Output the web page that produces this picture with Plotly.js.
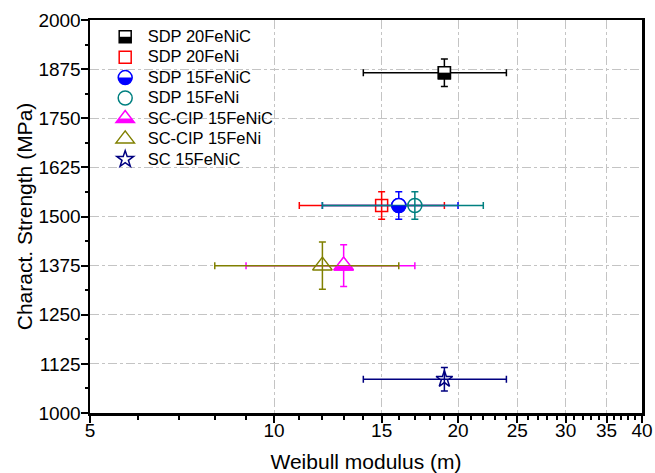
<!DOCTYPE html>
<html>
<head>
<meta charset="utf-8">
<script src="https://cdn.plot.ly/plotly-3.0.1.min.js"></script>
<style>
html,body{margin:0;padding:0;background:#ffffff;}
#chart{width:655px;height:473px;}
</style>
</head>
<body>
<div id="chart"></div>
<script>
// ---------------- data ----------------
var seriesNames = ['SDP 20FeNiC', 'SDP 20FeNi', 'SDP 15FeNiC', 'SDP 15FeNi', 'SC-CIP 15FeNiC', 'SC-CIP 15FeNi', 'SC 15FeNiC'];
var modulus = [19, 15, 16, 17, 13, 12, 19];
var modulusErrMinus = [5, 4, 4, 5, 4, 4, 5];
var modulusErrPlus = [5, 4, 4, 5, 4, 4, 5];
var strength = [1866, 1528, 1528, 1528, 1375, 1375, 1086];
var strengthErr = [35, 35, 35, 35, 53, 60, 30];

var xTickVals = [5, 10, 15, 20, 25, 30, 35, 40];
var xTickText = ['5', '10', '15', '20', '25', '30', '35', '40'];
var xMinorTickVals = [6, 7, 8, 9, 11, 12, 13, 14, 16, 17, 18, 19, 21, 22, 23, 24, 26, 27, 28, 29, 31, 32, 33, 34, 36, 37, 38, 39];
var yTickVals = [1000, 1125, 1250, 1375, 1500, 1625, 1750, 1875, 2000];
var yMinorTickVals = [1062.5, 1187.5, 1312.5, 1437.5, 1562.5, 1687.5, 1812.5, 1937.5];

// ---------------- styles ----------------
var colors = ['#000000', '#FF0000', '#0000FF', '#008080', '#FF00FF', '#808000', '#000080'];
var symbols = ['square', 'square', 'circle', 'circle', 'triangle-up', 'triangle-up', 'star'];
var sizes = [12, 12, 14, 14, 17, 17, 12.5];
var halfFilled = [true, false, true, false, true, false, false];
var FONT = 'Arial, "Liberation Sans", sans-serif';

var traces = [];
for (var i = 0; i < seriesNames.length; i++) {
  var sym = halfFilled[i] ? symbols[i] : symbols[i] + '-open';
  traces.push({
    type: 'scatter', mode: 'markers',
    name: '<span style="font-size:16.5px">' + seriesNames[i] + '</span>',
    x: [modulus[i]], y: [strength[i]],
    marker: {
      symbol: sym, size: sizes[i],
      color: halfFilled[i] ? 'rgba(255,255,255,0)' : colors[i],
      line: {color: colors[i], width: 1.5}
    },
    error_x: {type: 'data', symmetric: false, array: [modulusErrPlus[i]], arrayminus: [modulusErrMinus[i]],
              color: colors[i], thickness: 1.5, width: 3.5},
    error_y: {type: 'data', array: [strengthErr[i]], color: colors[i], thickness: 1.5, width: 3.5},
    hoverinfo: 'x+y+name'
  });
  if (halfFilled[i]) {
    traces.push({
      type: 'scatter', mode: 'markers', showlegend: false, hoverinfo: 'skip',
      x: [modulus[i]], y: [strength[i]],
      marker: {symbol: symbols[i], size: sizes[i], color: '#ffffff', line: {color: colors[i], width: 1.5}}
    });
  }
}

function halfPath(sym, size) {
  var r = size / 2;
  if (sym === 'square') {
    return 'M ' + (-r) + ',0 L ' + r + ',0 L ' + r + ',' + (-r) + ' L ' + (-r) + ',' + (-r) + ' Z';
  }
  if (sym === 'circle') {
    var k = 0.5523 * r;
    return 'M ' + (-r) + ',0 C ' + (-r) + ',' + (-k) + ' ' + (-k) + ',' + (-r) + ' 0,' + (-r) +
           ' C ' + k + ',' + (-r) + ' ' + r + ',' + (-k) + ' ' + r + ',0 Z';
  }
  var rt = r * 2 / Math.sqrt(3);
  return 'M ' + (-rt) + ',' + (-r / 2) + ' L ' + rt + ',' + (-r / 2) + ' L ' + (rt / 1.5) + ',0 L ' + (-rt / 1.5) + ',0 Z';
}
function fullPath(sym, size) {
  var r = size / 2;
  if (sym === 'square') {
    return 'M ' + (-r) + ',' + r + ' L ' + r + ',' + r + ' L ' + r + ',' + (-r) + ' L ' + (-r) + ',' + (-r) + ' Z';
  }
  if (sym === 'circle') {
    var k = 0.5523 * r;
    return 'M ' + (-r) + ',0 C ' + (-r) + ',' + (-k) + ' ' + (-k) + ',' + (-r) + ' 0,' + (-r) +
           ' C ' + k + ',' + (-r) + ' ' + r + ',' + (-k) + ' ' + r + ',0' +
           ' C ' + r + ',' + k + ' ' + k + ',' + r + ' 0,' + r +
           ' C ' + (-k) + ',' + r + ' ' + (-r) + ',' + k + ' ' + (-r) + ',0 Z';
  }
  var rt = r * 2 / Math.sqrt(3);
  return 'M ' + (-rt) + ',' + (-r / 2) + ' L ' + rt + ',' + (-r / 2) + ' L 0,' + r + ' Z';
}

var shapes = [];
for (var j = 0; j < seriesNames.length; j++) {
  if (!halfFilled[j]) continue;
  shapes.push({
    type: 'path', layer: 'above', xref: 'x', yref: 'y',
    xsizemode: 'pixel', ysizemode: 'pixel', xanchor: modulus[j], yanchor: strength[j],
    path: halfPath(symbols[j], sizes[j]),
    fillcolor: colors[j], line: {width: 0}
  });
}

var layout = {
  width: 655, height: 473,
  margin: {l: 90, r: 12.5, t: 19.5, b: 60, pad: 0},
  paper_bgcolor: '#ffffff', plot_bgcolor: '#ffffff',
  font: {family: FONT, color: '#000000', size: 19},
  showlegend: true,
  legend: {
    x: 0.023, y: 0.996, xanchor: 'left', yanchor: 'top',
    bgcolor: 'rgba(0,0,0,0)', borderwidth: 0,
    font: {family: FONT, size: 13.4, color: '#000000'},
    itemsizing: 'trace', itemwidth: 35
  },
  xaxis: {
    type: 'log', range: [Math.log10(5), Math.log10(40)],
    tickmode: 'array', tickvals: xTickVals, ticktext: xTickText,
    ticks: 'outside', ticklen: 7, tickwidth: 2, tickcolor: '#000000',
    showline: true, linewidth: 2.5, linecolor: '#000000', mirror: true,
    showgrid: true, gridcolor: '#c4c4c4', gridwidth: 1, griddash: 'dashdot',
    zeroline: false,
    tickfont: {family: FONT, size: 19},
    ticklabelstandoff: -8,
    title: {text: 'Weibull modulus (m)', font: {family: FONT, size: 21}, standoff: 23},
    minor: {tickmode: 'array', tickvals: xMinorTickVals, ticks: 'outside', ticklen: 4, tickwidth: 2, tickcolor: '#000000', showgrid: false}
  },
  yaxis: {
    range: [1000, 2000],
    tickmode: 'array', tickvals: yTickVals,
    ticks: 'outside', ticklen: 7, tickwidth: 2, tickcolor: '#000000',
    showline: true, linewidth: 2.5, linecolor: '#000000', mirror: true,
    showgrid: true, gridcolor: '#c4c4c4', gridwidth: 1, griddash: 'dashdot',
    zeroline: false,
    tickfont: {family: FONT, size: 19},
    ticklabelstandoff: -4,
    title: {text: 'Charact. Strength (MPa)', font: {family: FONT, size: 21}, standoff: 0},
    minor: {tickmode: 'array', tickvals: yMinorTickVals, ticks: 'outside', ticklen: 3, tickwidth: 2, tickcolor: '#000000', showgrid: false}
  },
  shapes: shapes
};

var gd = document.getElementById('chart');
Plotly.newPlot(gd, traces, layout, {staticPlot: true, displayModeBar: false}).then(function () {
  var fl = gd._fullLayout, s = fl._size;
  var gbox = gd.getBoundingClientRect();
  var items = gd.querySelectorAll('.legend .traces');
  var extra = [];
  for (var n = 0; n < items.length; n++) {
    var idx = n;
    var dat = items[n].__data__;
    if (dat && dat[0] && dat[0].trace) {
      var nm = dat[0].trace.name;
      for (var q = 0; q < seriesNames.length; q++) {
        if (nm.indexOf('>' + seriesNames[q] + '<') >= 0) idx = q;
      }
    }
    if (!halfFilled[idx]) continue;
    var pt = items[n].querySelector('.legendpoints path.scatterpts');
    if (!pt) continue;
    var ctm = pt.getScreenCTM();
    var cx = ctm.e - gbox.left, cy = ctm.f - gbox.top;
    var px = (cx - s.l) / s.w, py = 1 - (cy - s.t) / s.h;
    var lsize = Math.min(sizes[idx], 16);
    extra.push({type: 'path', layer: 'above', xref: 'paper', yref: 'paper',
      xsizemode: 'pixel', ysizemode: 'pixel', xanchor: px, yanchor: py,
      path: fullPath(symbols[idx], lsize), fillcolor: '#ffffff', line: {width: 0}});
    extra.push({type: 'path', layer: 'above', xref: 'paper', yref: 'paper',
      xsizemode: 'pixel', ysizemode: 'pixel', xanchor: px, yanchor: py,
      path: halfPath(symbols[idx], lsize), fillcolor: colors[idx], line: {width: 0}});
  }
  if (extra.length) Plotly.relayout(gd, {shapes: shapes.concat(extra)});
});
</script>
</body>
</html>
